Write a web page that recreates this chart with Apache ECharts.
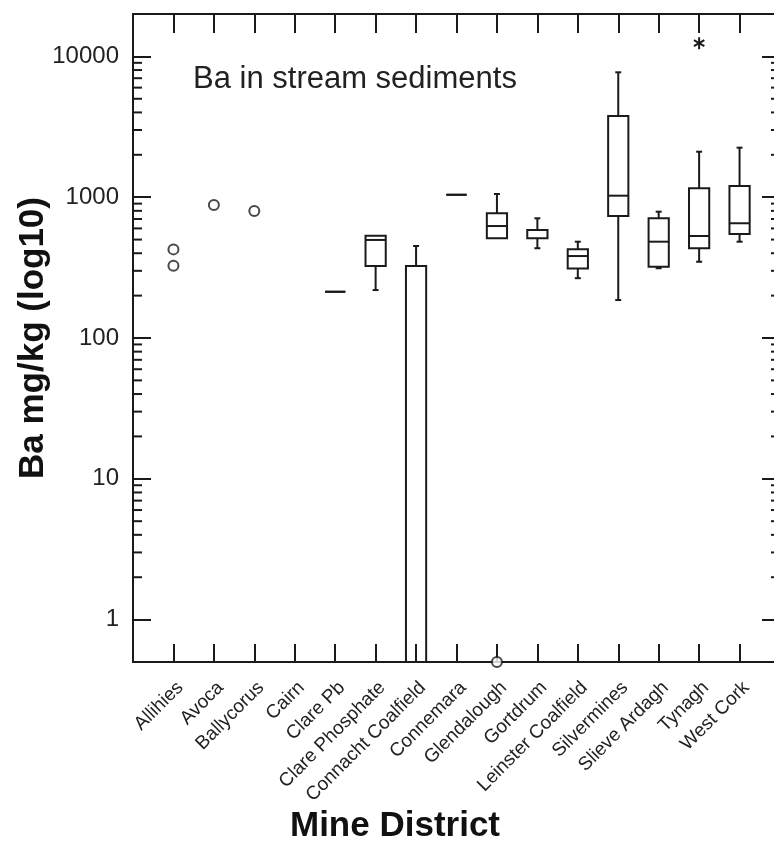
<!DOCTYPE html>
<html>
<head>
<meta charset="utf-8">
<script src="https://cdn.jsdelivr.net/npm/echarts@6/dist/echarts.min.js"></script>
<style>
html,body{margin:0;padding:0;background:#fff;}
#chart{width:774px;height:852px;}
</style>
</head>
<body>
<div id="chart"></div>
<script>
// ---- data ----
const categories = ['Allihies','Avoca','Ballycorus','Cairn','Clare Pb','Clare Phosphate','Connacht Coalfield','Connemara','Glendalough','Gortdrum','Leinster Coalfield','Silvermines','Slieve Ardagh','Tynagh','West Cork'];
// box statistics (null = no box)
const boxMin    = [null, null, null, null, 213, 219, 0.3, 1040, 511, 434, 266, 186, 313, 348, 483];
const boxQ1     = [null, null, null, null, 213, 325, 0.3, 1040, 511, 511, 311, 735, 321, 434, 548];
const boxMedian = [null, null, null, null, 213, 497, 0.3, 1040, 624, 585, 382, 1025, 483, 530, 653];
const boxQ3     = [null, null, null, null, 213, 533, 325, 1040, 769, 585, 427, 3774, 708, 1157, 1201];
const boxMax    = [null, null, null, null, 213, 533, 450, 1040, 1054, 708, 483, 7710, 789, 2104, 2248];
// outliers: [category name, value]
const circleOutliers = [['Allihies', 426], ['Allihies', 326], ['Avoca', 880], ['Ballycorus', 798], ['Glendalough', 0.5]];
const starOutliers = [['Tynagh', 12400]];
const yTickValues = [1, 10, 100, 1000, 10000];
const minorMultipliers = [2, 3, 4, 5, 6, 7, 8, 9];

// ---- build ----
const catPos = name => categories.indexOf(name) + 1;
const boxData = [];
categories.forEach((c, i) => {
  if (boxMin[i] != null) boxData.push([i + 1, boxMin[i], boxQ1[i], boxMedian[i], boxQ3[i], boxMax[i]]);
});
const minorData = [];
yTickValues.slice(0, 4).forEach(p => minorMultipliers.forEach(m => minorData.push([0, p * m])));

const FONT = '"Liberation Sans", Arial, sans-serif';
const INK = '#1a1a1a';

const chart = echarts.init(document.getElementById('chart'));
const option = {
  animation: false,
  backgroundColor: '#fff',
  grid: { left: 133, right: -6, top: 14, bottom: 190, containLabel: false, outerBoundsMode: 'none' },
  xAxis: [
    {
      type: 'value', min: 0, max: 16, interval: 1, position: 'bottom',
      axisLine: { show: true, onZero: false, lineStyle: { color: INK, width: 2 } },
      axisTick: { show: true, inside: true, length: 18, lineStyle: { color: INK, width: 2 } },
      splitLine: { show: false },
      axisLabel: {
        rotate: 45, margin: 16, fontSize: 19, color: '#222', fontFamily: FONT, verticalAlign: 'top',
        formatter: v => categories[Math.round(v) - 1] || ''
      }
    },
    {
      type: 'value', min: 0, max: 16, interval: 1, position: 'top',
      axisLine: { show: true, onZero: false, lineStyle: { color: INK, width: 2 } },
      axisTick: { show: true, inside: true, length: 19, lineStyle: { color: INK, width: 2 } },
      splitLine: { show: false },
      axisLabel: { show: false }
    }
  ],
  yAxis: [
    {
      type: 'log', logBase: 10, min: 0.5, max: 20000, position: 'left',
      axisLine: { show: true, onZero: false, lineStyle: { color: INK, width: 2 } },
      axisTick: { show: true, inside: true, length: 18, lineStyle: { color: INK, width: 2 } },
      splitLine: { show: false },
      axisLabel: {
        fontSize: 24, color: '#222', margin: 14, fontFamily: FONT,
        formatter: v => {
          const l = Math.log10(v);
          return Math.abs(l - Math.round(l)) < 1e-6 ? String(Math.round(v)) : '';
        }
      },
      name: 'Ba mg/kg (log10)', nameLocation: 'middle', nameGap: 82, nameMoveOverlap: false,
      nameTextStyle: { fontSize: 35, fontWeight: 'bold', color: '#111', fontFamily: FONT }
    },
    {
      type: 'log', logBase: 10, min: 0.5, max: 20000, position: 'right',
      axisLine: { show: true, onZero: false, lineStyle: { color: INK, width: 2 } },
      axisTick: { show: true, inside: true, length: 18, lineStyle: { color: INK, width: 2 } },
      splitLine: { show: false },
      axisLabel: { show: false }
    }
  ],
  graphic: [
    { type: 'text', left: 193, top: 64, style: { text: 'Ba in stream sediments', font: '31px ' + FONT, fill: '#222' } },
    { type: 'text', x: 395, y: 826, style: { text: 'Mine District', font: 'bold 35px ' + FONT, fill: '#111', textAlign: 'center', textVerticalAlign: 'middle' } }
  ],
  series: [
    {
      type: 'custom', name: 'minorTicks', silent: true, clip: false,
      data: minorData, encode: { x: 0, y: 1 },
      renderItem: (params, api) => {
        const cs = params.coordSys;
        const y = api.coord([0, api.value(1)])[1];
        const s = { stroke: INK, lineWidth: 2 };
        return { type: 'group', children: [
          { type: 'line', shape: { x1: cs.x, y1: y, x2: cs.x + 9, y2: y }, style: s },
          { type: 'line', shape: { x1: cs.x + cs.width, y1: y, x2: cs.x + cs.width - 9, y2: y }, style: s }
        ]};
      }
    },
    {
      type: 'custom', name: 'boxes', silent: true, clip: true,
      data: boxData, encode: { x: 0, y: [1, 2, 3, 4, 5] },
      renderItem: (params, api) => {
        const x = api.value(0);
        const vmin = api.value(1), q1 = api.value(2), med = api.value(3), q3 = api.value(4), vmax = api.value(5);
        const xl = api.coord([x - 0.25, q3])[0], xr = api.coord([x + 0.25, q3])[0];
        const xc = api.coord([x, q3])[0];
        const yMin = api.coord([x, vmin])[1], yQ1 = api.coord([x, q1])[1], yMed = api.coord([x, med])[1];
        const yQ3 = api.coord([x, q3])[1], yMax = api.coord([x, vmax])[1];
        const s = { stroke: INK, lineWidth: 2, fill: null };
        const ch = [
          { type: 'rect', shape: { x: xl, y: yQ3, width: xr - xl, height: yQ1 - yQ3 }, style: { stroke: INK, lineWidth: 2, fill: 'none' } },
          { type: 'line', shape: { x1: xl, y1: yMed, x2: xr, y2: yMed }, style: s }
        ];
        if (vmax > q3) {
          ch.push({ type: 'line', shape: { x1: xc, y1: yQ3, x2: xc, y2: yMax }, style: s });
          ch.push({ type: 'line', shape: { x1: xc - 3, y1: yMax, x2: xc + 3, y2: yMax }, style: s });
        }
        if (vmin < q1) {
          ch.push({ type: 'line', shape: { x1: xc, y1: yQ1, x2: xc, y2: yMin }, style: s });
          ch.push({ type: 'line', shape: { x1: xc - 3, y1: yMin, x2: xc + 3, y2: yMin }, style: s });
        }
        return { type: 'group', children: ch };
      }
    },
    {
      type: 'scatter', name: 'outliers', silent: true,
      data: circleOutliers.map(d => [catPos(d[0]), d[1]]),
      symbol: 'emptyCircle', symbolSize: 10,
      itemStyle: { color: INK, borderColor: INK, borderWidth: 2 }
    },
    {
      type: 'custom', name: 'stars', silent: true,
      data: starOutliers.map(d => [catPos(d[0]), d[1]]), encode: { x: 0, y: 1 },
      renderItem: (params, api) => {
        const p = api.coord([api.value(0), api.value(1)]);
        const r = 6, s = { stroke: INK, lineWidth: 2 };
        const ch = [];
        [90, 30, 150].forEach(a => {
          const dx = r * Math.cos(a * Math.PI / 180), dy = r * Math.sin(a * Math.PI / 180);
          ch.push({ type: 'line', shape: { x1: p[0] - dx, y1: p[1] - dy, x2: p[0] + dx, y2: p[1] + dy }, style: s });
        });
        return { type: 'group', children: ch };
      }
    }
  ]
};
chart.setOption(option);
</script>
</body>
</html>
